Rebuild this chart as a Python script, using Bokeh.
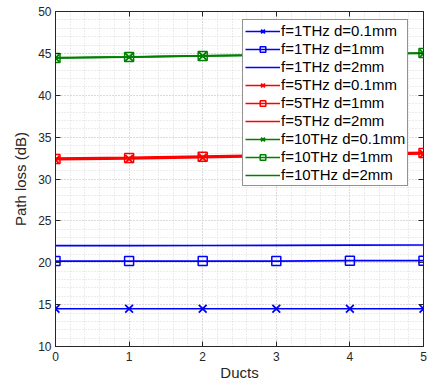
from bokeh.plotting import figure
from bokeh.models import LinearAxis, Range1d, Legend, LegendItem, FixedTicker, CustomJSTickFormatter
from bokeh.embed import file_html
from bokeh.resources import INLINE

ducts = [0, 1, 2, 3, 4, 5]
f1_d01 = [14.5, 14.5, 14.5, 14.5, 14.5, 14.5]
f1_d1 = [20.2, 20.2, 20.2, 20.2, 20.25, 20.25]
f1_d2 = [22.05, 22.05, 22.06, 22.08, 22.1, 22.12]
f5_d01 = [32.3, 32.4, 32.55, 32.7, 32.85, 33.0]
f5_d1 = [32.4, 32.5, 32.65, 32.8, 32.95, 33.1]
f5_d2 = [32.5, 32.6, 32.75, 32.9, 33.05, 33.2]
f10_d01 = [44.45, 44.55, 44.7, 44.8, 44.9, 45.0]
f10_d1 = [44.45, 44.56, 44.7, 44.8, 44.9, 45.05]
f10_d2 = [44.5, 44.6, 44.72, 44.82, 44.92, 45.05]
labels = ["f=1THz d=0.1mm", "f=1THz d=1mm", "f=1THz d=2mm",
          "f=5THz d=0.1mm", "f=5THz d=1mm", "f=5THz d=2mm",
          "f=10THz d=0.1mm", "f=10THz d=1mm", "f=10THz d=2mm"]
x_ticks = [0, 1, 2, 3, 4, 5]
y_ticks = [10, 15, 20, 25, 30, 35, 40, 45, 50]

FONT = "Liberation Sans"
TXT = "#262626"

p = figure(width=427, height=383, output_backend="svg", toolbar_location=None,
           x_range=Range1d(0, 5), y_range=Range1d(10, 50),
           min_border_left=55, min_border_right=4, min_border_top=11, min_border_bottom=30)
p.background_fill_color = "white"
p.border_fill_color = "white"
p.outline_line_color = "#262626"
p.outline_line_width = 1

for ax in (p.xaxis[0], p.yaxis[0]):
    ax.major_tick_in = 5
    ax.major_tick_out = 0
    ax.minor_tick_in = 0
    ax.minor_tick_out = 0
    ax.axis_line_color = TXT
    ax.major_tick_line_color = TXT
    ax.major_label_text_font = FONT
    ax.major_label_text_font_size = "12px"
    ax.major_label_text_color = TXT
    ax.axis_label_text_font = FONT
    ax.axis_label_text_font_size = "15px"
    ax.axis_label_text_font_style = "normal"
    ax.axis_label_text_color = TXT

p.xaxis[0].ticker = FixedTicker(ticks=x_ticks, minor_ticks=[i * 0.2 for i in range(26)])
p.yaxis[0].ticker = FixedTicker(ticks=y_ticks, minor_ticks=list(range(10, 51)))
p.xaxis[0].axis_label = "Ducts"
p.yaxis[0].axis_label = "Path loss (dB)"
p.xaxis[0].axis_label_standoff = 0
p.yaxis[0].axis_label_standoff = 6
p.yaxis[0].major_label_standoff = 4
p.xaxis[0].major_label_standoff = 5

for g in (p.xgrid[0], p.ygrid[0]):
    g.grid_line_color = "#c8c8c8"
    g.grid_line_dash = "1 2"
    g.grid_line_width = 1
    g.minor_grid_line_color = "#d8d8d8"
    g.minor_grid_line_dash = "1 2"
    g.minor_grid_line_width = 1

empty = CustomJSTickFormatter(code="return '';")
top = LinearAxis(ticker=FixedTicker(ticks=x_ticks), formatter=empty,
                 major_tick_in=5, major_tick_out=0, minor_tick_in=0, minor_tick_out=0,
                 major_label_text_font_size="0px", major_label_standoff=0,
                 axis_line_color=None, major_tick_line_color=TXT)
right = LinearAxis(ticker=FixedTicker(ticks=y_ticks), formatter=empty,
                   major_tick_in=5, major_tick_out=0, minor_tick_in=0, minor_tick_out=0,
                   major_label_text_font_size="0px", major_label_standoff=0,
                   axis_line_color=None, major_tick_line_color=TXT)
p.add_layout(top, "above")
p.add_layout(right, "right")

BLUE = "#0000ff"
RED = "#ff0000"
GREEN = "#008000"
series = [
    (f1_d01, BLUE, "x"), (f1_d1, BLUE, "square"), (f1_d2, BLUE, None),
    (f5_d01, RED, "x"), (f5_d1, RED, "square"), (f5_d2, RED, None),
    (f10_d01, GREEN, "x"), (f10_d1, GREEN, "square"), (f10_d2, GREEN, None),
]
items = []
for (vals, col, mk), lab in zip(series, labels):
    rs = [p.line(ducts, vals, line_color=col, line_width=1.6)]
    if mk == "x":
        rs.append(p.scatter(ducts, vals, marker="x", size=11, line_color=col, line_width=1.8))
    elif mk == "square":
        rs.append(p.scatter(ducts, vals, marker="square", size=9, line_color=col,
                            fill_color=None, line_width=1.5))
    items.append(LegendItem(label=lab, renderers=rs))

legend = Legend(items=items, location=(187, 160))
legend.label_text_font = FONT
legend.label_text_font_size = "15px"
legend.label_text_color = "black"
legend.glyph_width = 35
legend.glyph_height = 14
legend.label_height = 14
legend.spacing = 1
legend.padding = 2
legend.margin = 0
legend.label_standoff = 1
legend.border_line_color = "#262626"
legend.border_line_width = 1
legend.background_fill_alpha = 1
p.add_layout(legend, "center")

open("out.html", "w").write(file_html(p, INLINE))
